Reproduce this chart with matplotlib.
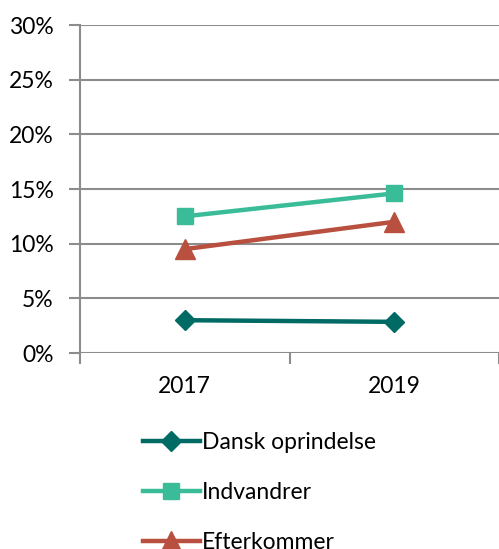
import matplotlib.pyplot as plt
from matplotlib.ticker import FuncFormatter, FixedLocator

years = ['2017', '2019']
dansk = [3.0, 2.85]
indvandrer = [12.5, 14.6]
efterkommer = [9.5, 12.0]

plt.rcParams['font.family'] = ['Lato', 'DejaVu Sans']
plt.rcParams['font.size'] = 16.5

fig = plt.figure(figsize=(4.99, 5.49), dpi=100)
ax = fig.add_axes([80 / 499, 196 / 549, 1 - 80 / 499, (353 - 25) / 549])

x = range(len(years))
ax.plot(x, dansk, color='#006a65', lw=3.2, marker='D', ms=10, label='Dansk oprindelse')
ax.plot(x, indvandrer, color='#3bbc98', lw=3.2, marker='s', ms=12, label='Indvandrer')
ax.plot(x, efterkommer, color='#b9503f', lw=3.2, marker='^', ms=14, label='Efterkommer')

ax.set_ylim(0, 30)
ax.set_yticks(range(0, 31, 5))
ax.yaxis.set_major_formatter(FuncFormatter(lambda v, p: '%d%%' % v))
ax.set_xlim(-0.5, 1.5)
ax.xaxis.set_major_locator(FixedLocator([-0.5, 0.5, 1.5]))
ax.set_xticklabels([])
for i, y in enumerate(years):
    ax.text(i, -3.1, y, ha='center', va='center')

ax.grid(axis='y', color='#8c8c8c', lw=1.5)
ax.set_axisbelow(True)
for s in ['top', 'right', 'bottom']:
    ax.spines[s].set_visible(False)
ax.spines['left'].set_color('#8c8c8c')
ax.spines['left'].set_linewidth(1.5)
ax.tick_params(axis='y', length=8, width=1.5, color='#8c8c8c', pad=11)
ax.tick_params(axis='x', length=8, width=1.5, color='#8c8c8c', direction='out')

fig.legend(loc='upper left', bbox_to_anchor=(122 / 499, 1 - 411 / 549), frameon=False,
           handlelength=2.5, labelspacing=1.27, handletextpad=0.1)

fig.savefig('out.png', dpi=100)
